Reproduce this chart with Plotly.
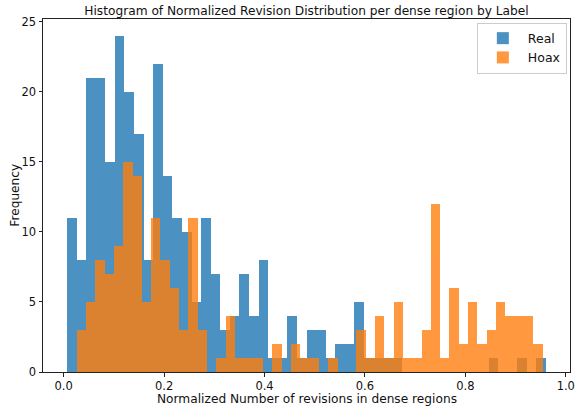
import numpy as np
import plotly.graph_objects as go

# Histogram counts (50 bins each)
real_counts = [11, 8, 21, 21, 15, 24, 20, 17, 8, 22,
               14, 11, 10, 5, 11, 7, 3, 4, 7, 4,
               8, 1, 1, 4, 1, 3, 3, 1, 2, 2,
               5, 1, 1, 1, 1, 0, 0, 0, 0, 0,
               0, 0, 0, 0, 1, 0, 0, 1, 0, 1]
hoax_counts = [3, 5, 8, 7, 9, 15, 14, 5, 11, 8,
               6, 3, 11, 3, 0, 1, 4, 1, 1, 1,
               0, 2, 0, 2, 1, 1, 0, 1, 0, 0,
               3, 1, 4, 1, 5, 1, 1, 3, 12, 1,
               6, 2, 5, 2, 3, 5, 4, 4, 4, 2]
real_range = [0.0065, 0.9607]
hoax_range = [0.0257, 0.9540]
labels = ["Real", "Hoax"]
x_ticks = [0.0, 0.2, 0.4, 0.6, 0.8, 1.0]
y_ticks = [0, 5, 10, 15, 20, 25]


def bins(rng, counts):
    n = len(counts)
    w = (rng[1] - rng[0]) / n
    centers = rng[0] + w * (np.arange(n) + 0.5)
    return centers, w


FONT = "DejaVu Sans"
fig = go.Figure()
for counts, rng, name, color in [(real_counts, real_range, labels[0], "#1f77b4"),
                                 (hoax_counts, hoax_range, labels[1], "#ff7f0e")]:
    c, w = bins(rng, counts)
    fig.add_trace(go.Bar(x=c, y=counts, width=w, name=name,
                         marker=dict(color=color, line=dict(width=0)),
                         opacity=0.8))

xmin = real_range[0] - 0.05 * (real_range[1] - real_range[0])
xmax = real_range[1] + 0.05 * (real_range[1] - real_range[0])
ymax = max(real_counts) * 1.05

axis_common = dict(showline=True, linecolor="#222", linewidth=1, mirror=True,
                   ticks="outside", ticklen=3.5, tickcolor="#222", showgrid=False,
                   zeroline=False, ticklabeloverflow="allow",
                   tickfont=dict(family=FONT, size=11.5, color="#111"))

fig.update_layout(
    width=579, height=408,
    barmode="overlay", bargap=0,
    plot_bgcolor="white", paper_bgcolor="white",
    margin=dict(l=43, r=4, t=19, b=36),
    font=dict(family=FONT, size=12, color="#111"),
    title=dict(text="Histogram of Normalized Revision Distribution per dense region by Label",
               x=0.5, xref="paper", y=1 - 11 / 408, yref="container",
               yanchor="middle", xanchor="center",
               font=dict(family=FONT, size=12.2, color="#111")),
    xaxis=dict(range=[xmin, xmax], tickvals=x_ticks, tickformat=".1f", **axis_common),
    yaxis=dict(range=[0, ymax], tickvals=y_ticks, **axis_common),
    showlegend=True,
    legend=dict(x=0.994, y=0.99, xanchor="right", yanchor="top",
                bgcolor="rgba(255,255,255,0.8)", bordercolor="#ccc", borderwidth=1,
                font=dict(family=FONT, size=12.5, color="#111"),
                itemwidth=40, tracegroupgap=0),
    annotations=[
        dict(text="Normalized Number of revisions in dense regions", xref="paper", yref="paper",
             x=0.5, y=-0.077, xanchor="center", yanchor="middle", showarrow=False,
             font=dict(family=FONT, size=12.2, color="#111")),
        dict(text="Frequency", xref="paper", yref="paper", x=-29 / 531, y=0.5,
             xanchor="center", yanchor="middle", textangle=-90, showarrow=False,
             font=dict(family=FONT, size=12.2, color="#111")),
    ],
)

fig.write_html("out.html", config={"displayModeBar": False},
               post_script="document.body.style.margin='0px';document.body.style.overflow='hidden';")
